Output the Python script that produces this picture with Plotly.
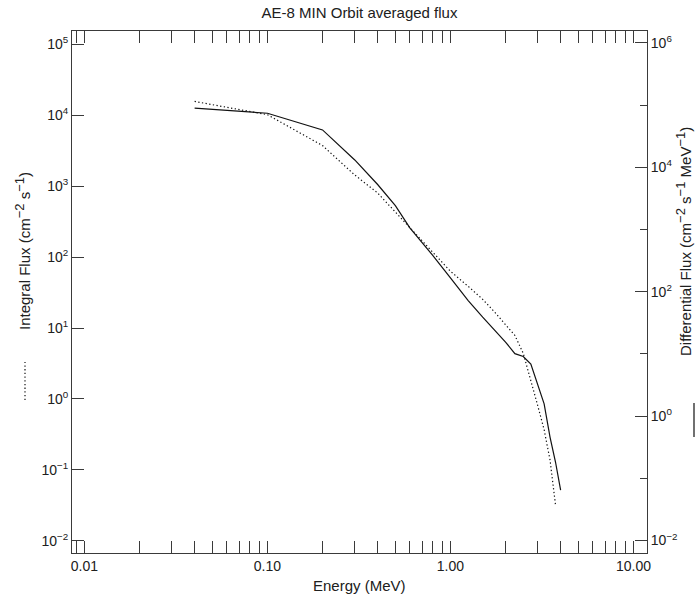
import plotly.graph_objects as go

# ---- data ----
energy_mev = [0.04, 0.1, 0.2, 0.3, 0.4, 0.5, 0.6, 0.7, 0.8, 1.0, 1.25, 1.5, 1.75,
              2.0, 2.25, 2.5, 2.75, 3.0, 3.25, 3.5, 3.75, 4.0]
integral_flux = [1.57e4, 1.02e4, 3.74e3, 1.44e3, 802, 432, 256, 168, 114, 63.2, 38.7,
                 25.4, 16.6, 11.2, 7.85, 4.38, 1.87, 0.80, 0.368, 0.138, 0.032, None]
differential_flux = [8.89e4, 7.38e4, 3.98e4, 1.31e4, 5.28e3, 2.42e3, 1.06e3, 622, 385,
                     167, 71.9, 38.9, 23.7, 15.5, 10.1, 9.08, 6.89, 3.28, 1.57, 0.461,
                     0.183, 0.0649]

x_ticks = [0.01, 0.1, 1, 10]
x_ticklabels = ["0.01", "0.10", "1.00", "10.00"]
left_exps = [-2, -1, 0, 1, 2, 3, 4, 5]
right_exps = [-2, 0, 2, 4, 6]
right_minor_exps = [-1, 1, 3, 5]

title = "AE-8 MIN Orbit averaged flux"
x_title = "Energy (MeV)"

def tsup(s):
    return f"<sup><span style='font-size:13px'>{s}</span></sup>"

left_title = f"Integral Flux (cm{tsup('−2')} s{tsup('−1')})"
right_title = f"Differential Flux (cm{tsup('−2')} s{tsup('−1')} MeV{tsup('−1')})"

# ---- styling ----
AX = "#3a3a3a"
TXT = "#202020"
FONT = "Liberation Sans"
W, H = 696, 597
L, R, T, B = 72, 647, 31, 553  # plot area pixel box

def px_x(p):
    return (p - L) / (R - L)

def px_y(p):
    return (B - p) / (B - T)

def sup(e):
    s = str(e).replace("-", "−")
    return f"10<sup>{s}</sup>"

x_minor = [k * 10.0 ** n for n in range(-3, 2) for k in range(2, 10)]

fig = go.Figure()
fig.add_trace(go.Scatter(x=energy_mev, y=integral_flux, mode="lines",
                         line=dict(color="#111111", width=1.2, dash="1.3px,2.4px"),
                         yaxis="y", showlegend=False, connectgaps=False))
fig.add_trace(go.Scatter(x=energy_mev, y=differential_flux, mode="lines",
                         line=dict(color="#111111", width=1.2),
                         yaxis="y2", showlegend=False))

fig.update_layout(
    width=W, height=H,
    margin=dict(l=L, r=W - R, t=T, b=H - B),
    paper_bgcolor="white", plot_bgcolor="white",
    font=dict(family=FONT, size=14, color=TXT),
    showlegend=False,
    title=dict(text=title, x=0.5, xref="paper", y=1 - 13 / H, yanchor="middle",
               xanchor="center", font=dict(family=FONT, size=15, color=TXT)),
    xaxis=dict(type="log", range=[-2.068, 1.074], tickvals=x_ticks, ticktext=x_ticklabels,
               ticks="inside", ticklen=12, tickwidth=1, tickcolor=AX,
               showline=True, linecolor=AX, linewidth=1, mirror="allticks",
               showgrid=False, zeroline=False,
               minor=dict(tickvals=x_minor, ticks="inside", ticklen=5, tickwidth=1,
                          tickcolor=AX, showgrid=False),
               tickfont=dict(size=14, color=TXT)),
    yaxis=dict(type="log", range=[-2.173, 5.189], tickvals=[10.0 ** e for e in left_exps],
               ticktext=[sup(e) for e in left_exps],
               ticks="inside", ticklen=12, tickwidth=1, tickcolor=AX,
               showline=True, linecolor=AX, linewidth=1, mirror=False,
               showgrid=False, zeroline=False, tickfont=dict(size=14, color=TXT)),
    yaxis2=dict(type="log", range=[-2.2, 6.19], overlaying="y", side="right", anchor="x",
                tickvals=[10.0 ** e for e in right_exps],
                ticktext=[sup(e) for e in right_exps],
                ticks="inside", ticklen=12, tickwidth=1, tickcolor=AX,
                showline=True, linecolor=AX, linewidth=1,
                showgrid=False, zeroline=False,
                minor=dict(tickvals=[10.0 ** e for e in right_minor_exps], ticks="inside",
                           ticklen=7, tickwidth=1, tickcolor=AX, showgrid=False),
                tickfont=dict(size=14, color=TXT)),
)

fig.add_annotation(text=x_title, xref="paper", yref="paper", x=0.5, y=px_y(585),
                   xanchor="center", yanchor="middle", showarrow=False,
                   font=dict(family=FONT, size=15, color=TXT))
fig.add_annotation(text=left_title, xref="paper", yref="paper", x=px_x(22), y=px_y(251),
                   xanchor="center", yanchor="middle", textangle=-90, showarrow=False,
                   font=dict(family=FONT, size=15, color=TXT))
fig.add_annotation(text=right_title, xref="paper", yref="paper", x=px_x(684), y=px_y(242),
                   xanchor="center", yanchor="middle", textangle=-90, showarrow=False,
                   font=dict(family=FONT, size=15, color=TXT))

# legend keys next to the axis titles
fig.add_shape(type="line", xref="paper", yref="paper", x0=px_x(25), x1=px_x(25),
              y0=px_y(400), y1=px_y(362), line=dict(color="#111111", width=1.2, dash="1.3px,2.4px"))
fig.add_shape(type="line", xref="paper", yref="paper", x0=px_x(694), x1=px_x(694),
              y0=px_y(437), y1=px_y(403), line=dict(color="#111111", width=1.2))

fig.write_html("out.html")
